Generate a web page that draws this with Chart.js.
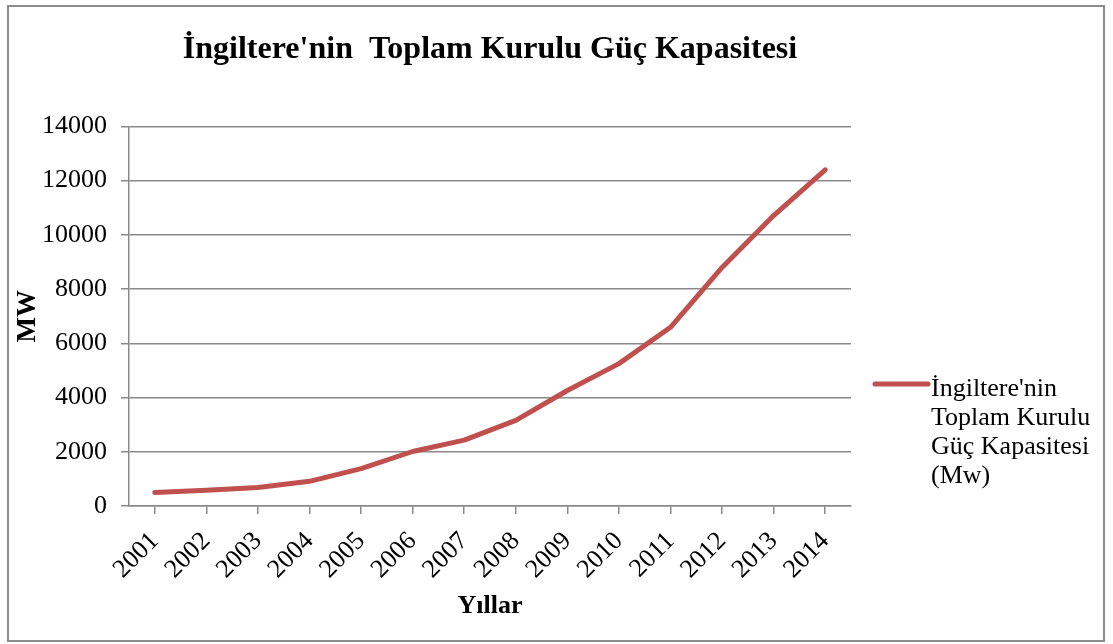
<!DOCTYPE html>
<html>
<head>
<meta charset="utf-8">
<script src="https://cdn.jsdelivr.net/npm/chart.js@4/dist/chart.umd.min.js"></script>
<style>
  body { margin: 0; background: #fff; }
  #wrap { width: 1113px; height: 644px; }
</style>
</head>
<body>
<div id="wrap"><canvas id="capacityChart" width="1113" height="644"></canvas></div>
<script>
const years = ["2001", "2002", "2003", "2004", "2005", "2006", "2007", "2008", "2009", "2010", "2011", "2012", "2013", "2014"];
const capacity = [500, 580, 680, 910, 1380, 2010, 2430, 3160, 4260, 5250, 6590, 8800, 10710, 12400];
const legendLines = ["İngiltere'nin", "Toplam Kurulu", "Güç Kapasitesi", "(Mw)"];
const chartTitle = "İngiltere'nin  Toplam Kurulu Güç Kapasitesi";

const serif = "'Liberation Serif', 'Times New Roman', serif";
const gridGray = "#8a8a8a";

// white page + grey frame round the whole chart
const framePlugin = {
  id: "frame",
  beforeDraw(chart) {
    const c = chart.ctx;
    c.save();
    c.fillStyle = "#fff";
    c.fillRect(0, 0, chart.width, chart.height);
    c.strokeStyle = "#8c8c8c";
    c.lineWidth = 2;
    c.strokeRect(8, 6, 1096, 635);
    c.restore();
  },
};

// legend on the right, text wrapped over several lines
const sideLegend = {
  id: "sideLegend",
  afterDraw(chart) {
    const c = chart.ctx;
    const ds = chart.data.datasets[0];
    const x0 = chart.chartArea.right + 22;
    c.save();
    c.strokeStyle = ds.borderColor;
    c.lineWidth = 5;
    c.lineCap = "round";
    c.beginPath();
    c.moveTo(x0 + 2, 384);
    c.lineTo(x0 + 55, 384);
    c.stroke();
    c.fillStyle = "#000";
    c.font = "26px " + serif;
    c.textBaseline = "alphabetic";
    legendLines.forEach((line, i) => {
      c.fillText(line, x0 + 58, 396 + i * 29);
    });
    c.restore();
  },
};

new Chart(document.getElementById("capacityChart"), {
  type: "line",
  data: {
    labels: years,
    datasets: [
      {
        label: legendLines.join(" "),
        data: capacity,
        borderColor: "#C0504D",
        borderWidth: 5,
        pointRadius: 0,
        tension: 0,
        borderCapStyle: "round",
        borderJoinStyle: "round",
      },
    ],
  },
  options: {
    responsive: false,
    animation: false,
    layout: { padding: { left: 12, right: 262, top: 0, bottom: 22 } },
    plugins: {
      legend: { display: false },
      tooltip: { enabled: false },
      title: {
        display: true,
        text: chartTitle,
        fullSize: false,
        color: "#000",
        font: { family: serif, size: 32, weight: "bold", lineHeight: 1.2 },
        padding: { top: 31, bottom: 57 },
      },
    },
    scales: {
      x: {
        offset: true,
        grid: { display: true, drawOnChartArea: false, drawTicks: true, tickLength: 8, color: gridGray, lineWidth: 1.5 },
        border: { color: gridGray, width: 1.5 },
        ticks: {
          color: "#000",
          font: { family: serif, size: 26 },
          minRotation: 45,
          maxRotation: 45,
          autoSkip: false,
          padding: 12,
        },
        title: {
          display: true,
          text: "Yıllar",
          color: "#000",
          font: { family: serif, size: 26, weight: "bold", lineHeight: 1.2 },
          padding: 0,
        },
        afterFit(scale) {
          scale.height = 116;
        },
      },
      y: {
        min: 0,
        max: 14000,
        grid: { color: gridGray, lineWidth: 1.5, tickLength: 8 },
        border: { color: gridGray, width: 1.5 },
        ticks: {
          stepSize: 2000,
          color: "#000",
          font: { family: serif, size: 26 },
          padding: 14,
          callback: (v) => String(v),
        },
        title: {
          display: true,
          text: "MW",
          color: "#000",
          font: { family: serif, size: 27, weight: "bold", lineHeight: 1.2 },
          padding: 0,
        },
        afterFit(scale) {
          scale.width = 117;
        },
      },
    },
  },
  plugins: [framePlugin, sideLegend],
});
</script>
</body>
</html>
